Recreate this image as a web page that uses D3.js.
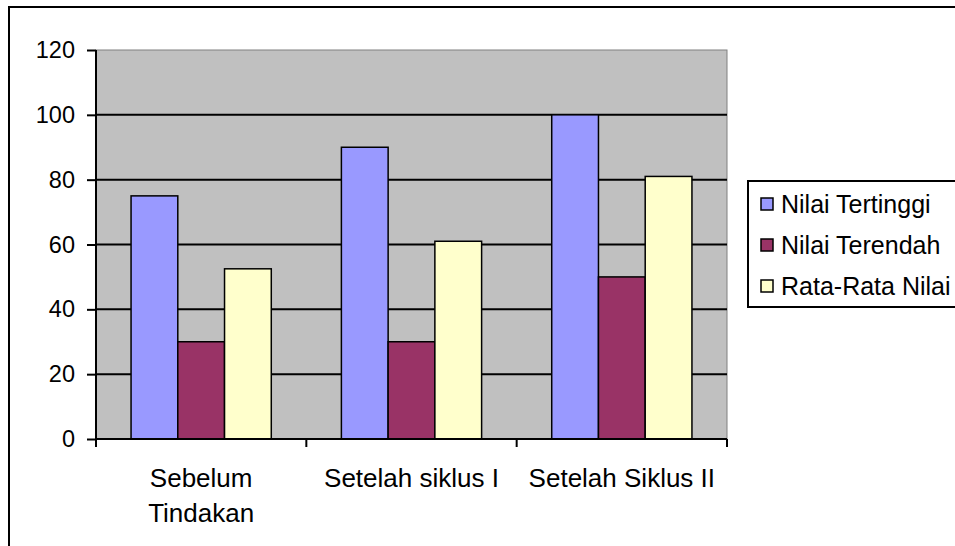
<!DOCTYPE html>
<html>
<head>
<meta charset="utf-8">
<script src="https://cdn.jsdelivr.net/npm/d3@7"></script>
<style>
  html, body { margin: 0; padding: 0; background: #ffffff; }
  svg { display: block; font-family: "Liberation Sans", Arial, sans-serif; }
</style>
</head>
<body>
<svg id="chart" width="955" height="546"></svg>
<script>
const categories = [["Sebelum", "Tindakan"], ["Setelah siklus I"], ["Setelah Siklus II"]];
const seriesNames = ["Nilai Tertinggi", "Nilai Terendah", "Rata-Rata Nilai"];
const nilaiTertinggi = [75, 90, 100];
const nilaiTerendah = [30, 30, 50];
const rataRataNilai = [52.5, 61, 81];
const yTicks = [0, 20, 40, 60, 80, 100, 120];
const colors = ["#9999FF", "#993366", "#FFFFCC"];

const seriesValues = [nilaiTertinggi, nilaiTerendah, rataRataNilai];
const svg = d3.select("#chart");

// outer frame
svg.append("rect").attr("x", 9).attr("y", 7).attr("width", 960).attr("height", 560)
  .attr("fill", "#fff").attr("stroke", "#000").attr("stroke-width", 2);

const plot = { left: 96, right: 727, top: 50, bottom: 439 };
const catIdx = categories.map((d, i) => i);

const x0 = d3.scaleBand().domain(catIdx).range([plot.left, plot.right]).padding(0);
const x1 = d3.scaleBand().domain(seriesNames).range([0, x0.bandwidth()])
  .paddingInner(0).paddingOuter(0.75);
const y = d3.scaleLinear().domain([0, 120]).range([plot.bottom, plot.top]);

// plot area
svg.append("rect").attr("x", plot.left).attr("y", plot.top)
  .attr("width", plot.right - plot.left).attr("height", plot.bottom - plot.top)
  .attr("fill", "#C0C0C0").attr("stroke", "#808080").attr("stroke-width", 1);

// gridlines
svg.append("g").selectAll("line").data(yTicks.filter(t => t > 0 && t < 120)).join("line")
  .attr("x1", plot.left).attr("x2", plot.right)
  .attr("y1", d => y(d)).attr("y2", d => y(d))
  .attr("stroke", "#000").attr("stroke-width", 2);

// bars
const groups = svg.append("g").selectAll("g").data(catIdx).join("g")
  .attr("transform", d => `translate(${x0(d)},0)`);
groups.selectAll("rect").data(ci => seriesNames.map((s, si) => ({ s, si, v: seriesValues[si][ci] })))
  .join("rect")
  .attr("x", d => x1(d.s)).attr("width", x1.bandwidth())
  .attr("y", d => y(d.v)).attr("height", d => y(0) - y(d.v))
  .attr("fill", d => colors[d.si]).attr("stroke", "#000").attr("stroke-width", 1.5);

// y axis
const yAxis = d3.axisLeft(y).tickValues(yTicks).tickSize(9).tickPadding(12);
const gy = svg.append("g").attr("transform", `translate(${plot.left},0)`).call(yAxis);
gy.select(".domain").attr("stroke", "#000").attr("stroke-width", 2).attr("d", `M0,${plot.top}V${plot.bottom}`);
gy.selectAll(".tick line").attr("stroke", "#000").attr("stroke-width", 2);
gy.selectAll(".tick text").attr("font-size", 23.5).attr("fill", "#000")
  .attr("font-family", "'Liberation Sans', Arial, sans-serif");

// x axis
const boundaries = [plot.left, ...catIdx.map(i => x0(i) + x0.bandwidth())];
const gx = svg.append("g");
gx.append("line").attr("x1", plot.left).attr("x2", plot.right)
  .attr("y1", plot.bottom).attr("y2", plot.bottom).attr("stroke", "#000").attr("stroke-width", 2);
gx.selectAll("line.tk").data(boundaries).join("line").attr("class", "tk")
  .attr("x1", d => d).attr("x2", d => d).attr("y1", plot.bottom).attr("y2", plot.bottom + 8)
  .attr("stroke", "#000").attr("stroke-width", 2);
const labels = gx.selectAll("text").data(catIdx).join("text")
  .attr("x", d => x0(d) + x0.bandwidth() / 2).attr("y", 487)
  .attr("text-anchor", "middle").attr("font-size", 26).attr("fill", "#000");
labels.each(function (d) {
  const t = d3.select(this);
  categories[d].forEach((line, li) => {
    t.append("tspan").attr("x", x0(d) + x0.bandwidth() / 2).attr("dy", li === 0 ? 0 : 35).text(line);
  });
});

// legend
const lg = svg.append("g");
lg.append("rect").attr("x", 748).attr("y", 181).attr("width", 230).attr("height", 126)
  .attr("fill", "#fff").attr("stroke", "#000").attr("stroke-width", 2);
const rows = lg.selectAll("g").data(seriesNames).join("g")
  .attr("transform", (d, i) => `translate(0,${204 + i * 41})`);
rows.append("rect").attr("x", 761).attr("y", -6).attr("width", 12).attr("height", 12)
  .attr("fill", (d, i) => colors[i]).attr("stroke", "#000").attr("stroke-width", 1.5);
rows.append("text").attr("x", 781).attr("y", 8.5).attr("font-size", 25).attr("fill", "#000").text(d => d);
</script>
</body>
</html>
